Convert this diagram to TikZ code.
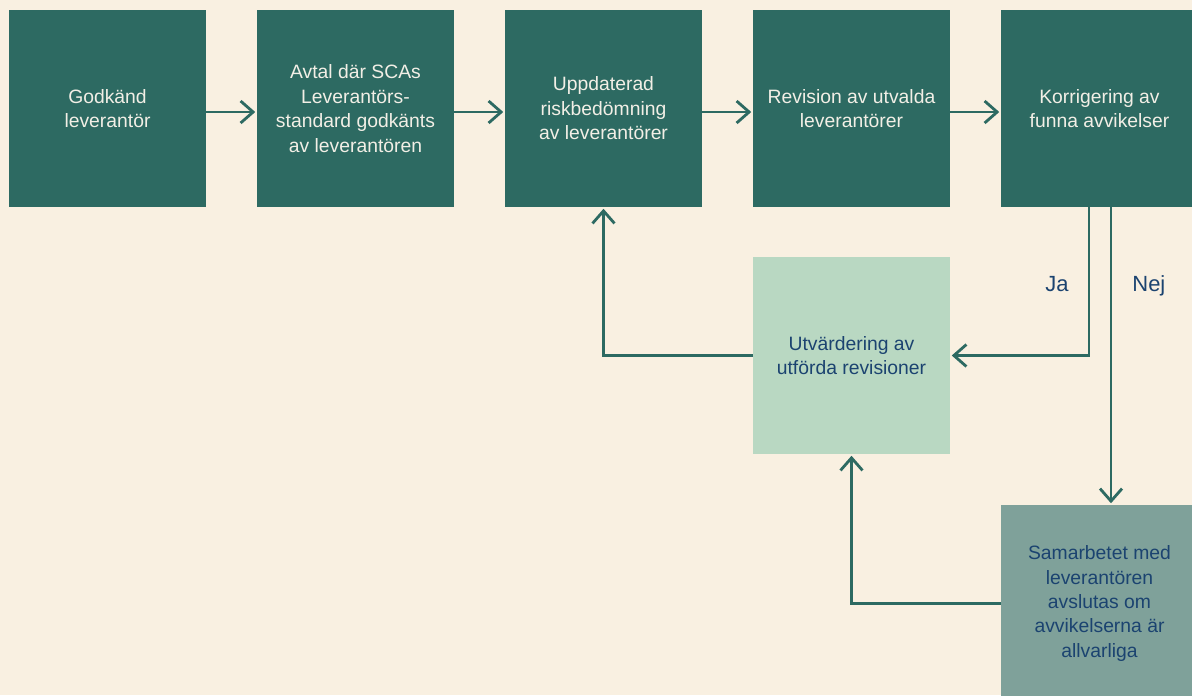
\documentclass[tikz,border=0pt]{standalone}
\usepackage{fontspec}
\setmainfont{Liberation Sans}
\usepackage{xcolor}
\usetikzlibrary{arrows.meta,positioning,calc}

\definecolor{bgcream}{HTML}{F9F0E1}
\definecolor{tealdark}{HTML}{2D6A62}
\definecolor{mintlight}{HTML}{B9D8C2}
\definecolor{greyteal}{HTML}{7FA19A}
\definecolor{navytext}{HTML}{1B4370}
\definecolor{paletext}{HTML}{F2EFE6}

\begin{document}
\begin{tikzpicture}[
    node distance=1.0cm and 1.02cm,
    b1/.style={rectangle, fill=tealdark, text=paletext, align=center, minimum size=3.94cm, inner sep=0pt, outer sep=0pt, font=\fontsize{11}{13.9}\selectfont},
    b2/.style={b1, fill=mintlight, text=navytext},
    b3/.style={b1, fill=greyteal, text=navytext},
    lbl/.style={text=navytext, font=\fontsize{12.5}{15}\selectfont, inner sep=0pt},
    arr/.style={-{Straight Barb[length=2.5mm, width=4.4mm, line width=1.6pt]}, line width=1.6pt, draw=tealdark, shorten >=1pt}
]
    \clip (0,0) rectangle (23.84,-13.9);
    \fill [bgcream] (0,0) rectangle (23.84,-13.9);

    \node [b1, anchor=north west] (n1) at (0.18,-0.2) {Godkänd\\leverantör};
    \node [b1, right=of n1] (n2) {Avtal där SCAs\\Leverantörs-\\standard godkänts\\av leverantören};
    \node [b1, right=of n2] (n3) {Uppdaterad\\riskbedömning\\av leverantörer};
    \node [b1, right=of n3] (n4) {Revision av utvalda\\leverantörer};
    \node [b1, right=of n4] (n5) {Korrigering av\\funna avvikelser};
    \node [b2, below=of n4] (n6) {Utvärdering av\\utförda revisioner};
    \node [b3, below right=1.02cm and 1.02cm of n6] (n7) {Samarbetet med\\leverantören\\avslutas om\\avvikelserna är\\allvarliga};

    \draw [arr] ([yshift=-0.07cm]n1.east) -- ([yshift=-0.07cm]n2.west);
    \draw [arr] ([yshift=-0.07cm]n2.east) -- ([yshift=-0.07cm]n3.west);
    \draw [arr] ([yshift=-0.07cm]n3.east) -- ([yshift=-0.07cm]n4.west);
    \draw [arr] ([yshift=-0.07cm]n4.east) -- ([yshift=-0.07cm]n5.west);

    \draw [arr] ([xshift=-0.21cm]n5.south) |- node[lbl, pos=0.286, anchor=base east, xshift=-0.38cm] (ja) {Ja} (n6.east);
    \draw [arr] ([xshift=0.23cm]n5.south) -- node[lbl, pos=0.285, anchor=base west, xshift=0.4cm] (nej) {Nej} ([xshift=0.23cm]n7.north);
    \draw [arr] (n6.west) -| (n3.south);
    \draw [arr] (n7.west) -| (n6.south);
\end{tikzpicture}
\end{document}
